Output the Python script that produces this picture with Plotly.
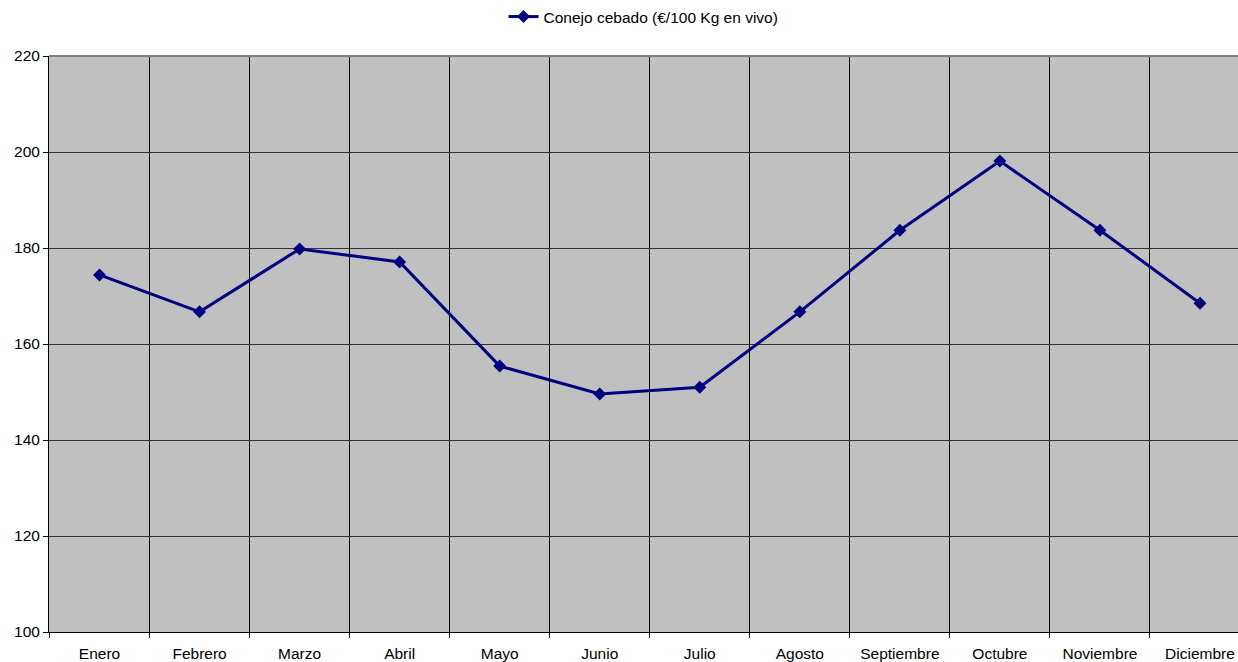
import plotly.graph_objects as go

months = ["Enero", "Febrero", "Marzo", "Abril", "Mayo", "Junio", "Julio",
          "Agosto", "Septiembre", "Octubre", "Noviembre", "Diciembre"]
precio = [174.4, 166.7, 179.8, 177.1, 155.4, 149.6, 151.0, 166.7, 183.7, 198.1, 183.7, 168.5]
series_name = "Conejo cebado (€/100 Kg en vivo)"

fig = go.Figure()
fig.add_trace(go.Scatter(
    x=months, y=precio, name=series_name, mode="lines+markers",
    line=dict(color="#000080", width=3),
    marker=dict(symbol="diamond", size=10, color="#000080"),
    showlegend=True,
))

fig.update_layout(
    width=1238, height=662,
    margin=dict(l=49, r=0, t=56, b=30),
    paper_bgcolor="white", plot_bgcolor="#c0c0c0",
    font=dict(family="Liberation Sans, Arial, sans-serif", size=15.5, color="black"),
    showlegend=True,
    legend=dict(orientation="h", x=0.5, xanchor="center", y=1.0, yanchor="top",
                yref="container", font=dict(size=15.5), itemwidth=30),
    xaxis=dict(type="category", range=[-0.505, 11.38], tickson="boundaries",
               showgrid=True, gridcolor="black", gridwidth=1,
               ticks="outside", ticklen=5, tickcolor="black",
               ticklabelstandoff=7,
               showline=True, linecolor="black", linewidth=1,
               zeroline=False, fixedrange=True),
    yaxis=dict(range=[100, 220], dtick=20, tick0=100,
               showgrid=True, gridcolor="#333333", gridwidth=1,
               ticks="outside", ticklen=5, tickcolor="black",
               showline=True, linecolor="black", linewidth=1,
               zeroline=False),
)
fig.add_shape(type="line", xref="paper", yref="paper", x0=0, x1=1, y0=1, y1=1,
              line=dict(color="#808080", width=2))

fig.write_html("out.html", post_script="document.body.style.margin='0';",
               config={"displayModeBar": False})
